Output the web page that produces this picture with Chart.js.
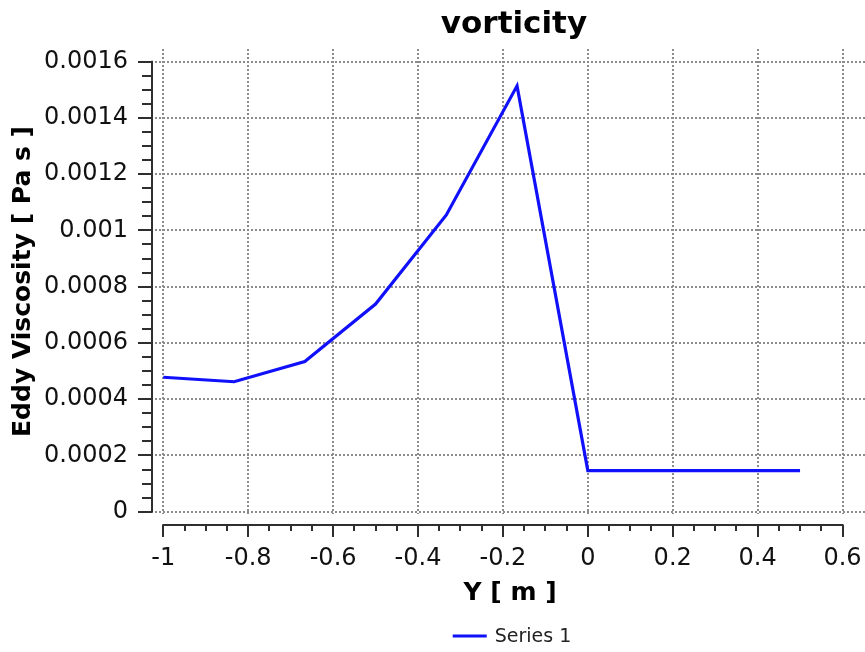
<!DOCTYPE html>
<html>
<head>
<meta charset="utf-8">
<script src="https://cdn.jsdelivr.net/npm/chart.js@4/dist/chart.umd.min.js"></script>
<style>
  html, body { margin: 0; padding: 0; background: #ffffff; }
  #wrap { width: 865px; height: 652px; }
</style>
</head>
<body>
<div id="wrap"><canvas id="c" width="865" height="652"></canvas></div>
<script>
// ---- data ----
const chartTitle = 'vorticity';
const seriesLabel = 'Series 1';
const xAxisTitle = 'Y [ m ]';
const yAxisTitle = 'Eddy Viscosity [ Pa s ]';
const yPositions = [-1, -0.8333, -0.6667, -0.5, -0.3333, -0.1667, 0, 0.1667, 0.3333, 0.5];
const eddyViscosity = [0.000478, 0.000462, 0.000534, 0.000738, 0.001055, 0.001514, 0.000146, 0.000146, 0.000146, 0.000146];
const xTickValues = [-1, -0.8, -0.6, -0.4, -0.2, 0, 0.2, 0.4, 0.6];
const xTickLabels = ['-1', '-0.8', '-0.6', '-0.4', '-0.2', '0', '0.2', '0.4', '0.6'];
const yTickValues = [0, 0.0002, 0.0004, 0.0006, 0.0008, 0.001, 0.0012, 0.0014, 0.0016];
const yTickLabels = ['0', '0.0002', '0.0004', '0.0006', '0.0008', '0.001', '0.0012', '0.0014', '0.0016'];
const xMinorStep = 0.05;
const yMinorStep = 0.00005;

const points = yPositions.map((x, i) => ({ x: x, y: eddyViscosity[i] }));

const AXIS_COLOR = '#2e2e2e';
const FONT = "'DejaVu Sans', Verdana, sans-serif";

// Draws the detached axis lines with major/minor ticks, the title and the legend
const decorPlugin = {
  id: 'decor',
  afterDraw(chart) {
    const ctx = chart.ctx;
    const area = chart.chartArea;
    const xs = chart.scales.x, ys = chart.scales.y;
    ctx.save();
    ctx.strokeStyle = AXIS_COLOR;
    ctx.lineWidth = 2;
    ctx.lineCap = 'butt';

    // Y axis
    const yAxisX = area.left - 3;
    const yTop = ys.getPixelForValue(yTickValues[yTickValues.length - 1]);
    const yBot = ys.getPixelForValue(yTickValues[0]);
    ctx.beginPath();
    ctx.moveTo(yAxisX, yTop - 1);
    ctx.lineTo(yAxisX, yBot + 1);
    ctx.stroke();
    const yMinCount = Math.round((yTickValues[yTickValues.length - 1] - yTickValues[0]) / yMinorStep);
    for (let i = 0; i <= yMinCount; i++) {
      const v = yTickValues[0] + i * yMinorStep;
      const p = Math.round(ys.getPixelForValue(v));
      const major = i % 4 === 0;
      ctx.beginPath();
      ctx.moveTo(yAxisX, p);
      ctx.lineTo(yAxisX - (major ? 14 : 10), p);
      ctx.stroke();
    }

    // X axis
    const xAxisY = area.bottom + 11;
    const xL = xs.getPixelForValue(xTickValues[0]);
    const xR = xs.getPixelForValue(xTickValues[xTickValues.length - 1]);
    ctx.beginPath();
    ctx.moveTo(xL - 1, xAxisY);
    ctx.lineTo(xR + 1, xAxisY);
    ctx.stroke();
    const xMinCount = Math.round((xTickValues[xTickValues.length - 1] - xTickValues[0]) / xMinorStep);
    for (let i = 0; i <= xMinCount; i++) {
      const v = xTickValues[0] + i * xMinorStep;
      const p = Math.round(xs.getPixelForValue(v));
      const major = i % 4 === 0;
      ctx.beginPath();
      ctx.moveTo(p, xAxisY);
      ctx.lineTo(p, xAxisY + (major ? 12 : 6));
      ctx.stroke();
    }

    const cx = (area.left + area.right) / 2;

    // Title
    ctx.fillStyle = '#000000';
    ctx.font = 'bold 31px ' + FONT;
    ctx.textAlign = 'center';
    ctx.textBaseline = 'alphabetic';
    ctx.fillText(chartTitle, cx + 4, 33);

    // Legend
    const ds = chart.data.datasets[0];
    ctx.font = '19px ' + FONT;
    const tw = ctx.measureText(ds.label).width;
    const sw = 34, gap = 8;
    const total = sw + gap + tw;
    const lx = cx - total / 2 + 2;
    const ly = 636;
    ctx.strokeStyle = ds.borderColor;
    ctx.lineWidth = 3;
    ctx.beginPath();
    ctx.moveTo(lx, ly);
    ctx.lineTo(lx + sw, ly);
    ctx.stroke();
    ctx.fillStyle = '#222222';
    ctx.textAlign = 'left';
    ctx.textBaseline = 'middle';
    ctx.fillText(ds.label, lx + sw + gap, ly + 1);
    ctx.restore();
  }
};

new Chart(document.getElementById('c'), {
  type: 'line',
  data: {
    datasets: [{
      label: seriesLabel,
      data: points,
      borderColor: '#1010fa',
      borderWidth: 3.2,
      pointRadius: 0,
      pointHoverRadius: 0,
      tension: 0,
      fill: false
    }]
  },
  options: {
    responsive: false,
    animation: false,
    devicePixelRatio: 1,
    layout: { padding: { top: 49, left: 0, right: 0, bottom: 0 } },
    plugins: {
      legend: { display: false },
      title: { display: false },
      tooltip: { enabled: false }
    },
    scales: {
      x: {
        type: 'linear',
        min: -1.0196,
        max: 0.653,
        afterBuildTicks: (s) => { s.ticks = xTickValues.map(v => ({ value: v })); },
        afterFit: (s) => { s.height = 138; },
        ticks: {
          callback: (v, i) => xTickLabels[i],
          font: { family: FONT, size: 24 },
          color: '#111111',
          padding: 0,
          maxRotation: 0,
          autoSkip: false
        },
        grid: {
          color: '#8c8c8c',
          lineWidth: 2,
          drawTicks: true,
          tickLength: 30,
          tickColor: 'rgba(0,0,0,0)'
        },
        border: { display: false, dash: [2, 2] },
        title: {
          display: true,
          text: xAxisTitle,
          font: { family: FONT, size: 25, weight: 'bold' },
          color: '#000000',
          padding: { top: 0, bottom: 44 }
        }
      },
      y: {
        type: 'linear',
        min: -0.0000082,
        max: 0.001645,
        afterBuildTicks: (s) => { s.ticks = yTickValues.map(v => ({ value: v })); },
        afterFit: (s) => { s.width = 155; },
        ticks: {
          callback: (v, i) => yTickLabels[i],
          font: { family: FONT, size: 24 },
          color: '#111111',
          padding: 0,
          autoSkip: false
        },
        grid: {
          color: '#8c8c8c',
          lineWidth: 2,
          drawTicks: true,
          tickLength: 27,
          tickColor: 'rgba(0,0,0,0)'
        },
        border: { display: false, dash: [2, 2] },
        title: {
          display: true,
          text: yAxisTitle,
          font: { family: FONT, size: 25, weight: 'bold' },
          color: '#000000',
          padding: { top: 8, bottom: 0 }
        }
      }
    }
  },
  plugins: [decorPlugin]
});
</script>
</body>
</html>
